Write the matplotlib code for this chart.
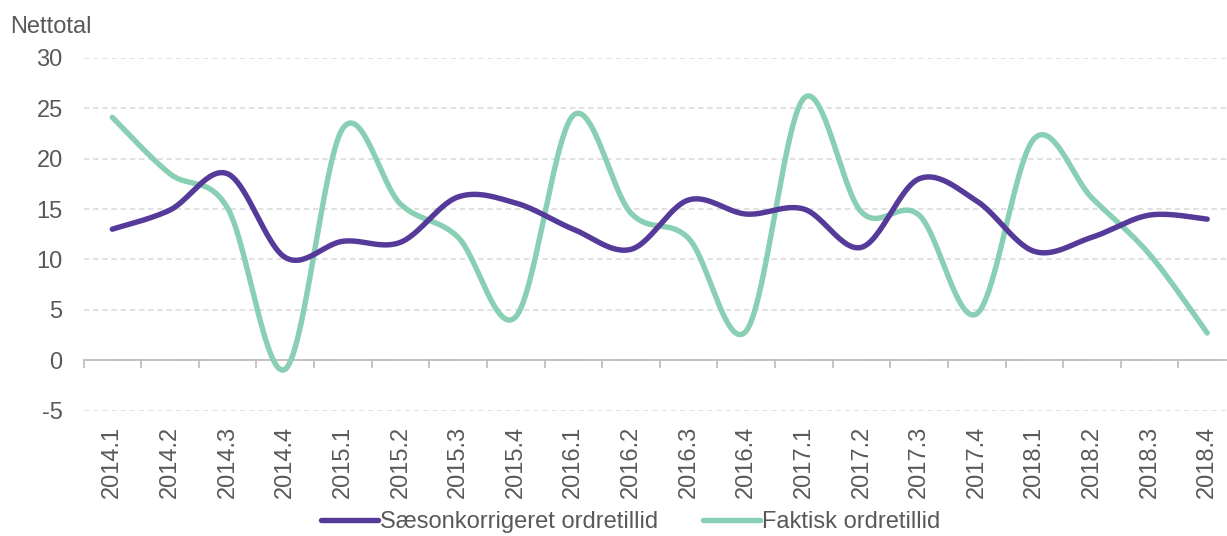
import numpy as np
import matplotlib
matplotlib.use("Agg")
import matplotlib.pyplot as plt

# Data
quarters = ["2014.1", "2014.2", "2014.3", "2014.4",
            "2015.1", "2015.2", "2015.3", "2015.4",
            "2016.1", "2016.2", "2016.3", "2016.4",
            "2017.1", "2017.2", "2017.3", "2017.4",
            "2018.1", "2018.2", "2018.3", "2018.4"]
saeson = [13.0, 14.9, 18.5, 10.2, 11.8, 11.7, 16.2, 15.6, 13.0, 11.0,
          15.9, 14.5, 15.0, 11.2, 18.0, 15.8, 10.8, 12.2, 14.4, 14.0]
faktisk = [24.1, 18.5, 15.1, -0.9, 23.0, 15.5, 12.2, 4.3, 24.3, 14.6,
           12.1, 2.9, 26.0, 14.7, 14.4, 4.6, 22.0, 16.1, 10.5, 2.7]
y_ticks = [-5, 0, 5, 10, 15, 20, 25, 30]

purple = "#553A99"
green = "#88CFB4"
textcol = "#595959"

plt.rcParams['font.family'] = ['Liberation Sans', 'DejaVu Sans']
plt.rcParams['axes.unicode_minus'] = False


def smooth(xs, ys, n=30):
    # Bezier through points, control points like an Excel smoothed line
    xs = np.asarray(xs, float)
    ys = np.asarray(ys, float)
    px = np.concatenate([[xs[0]], xs, [xs[-1]]])
    py = np.concatenate([[ys[0]], ys, [ys[-1]]])
    outx, outy = [], []
    t = np.linspace(0, 1, n)
    for i in range(1, len(px) - 2):
        x0, y0 = px[i], py[i]
        x3, y3 = px[i + 1], py[i + 1]
        x1 = x0 + (px[i + 1] - px[i - 1]) / 6
        y1 = y0 + (py[i + 1] - py[i - 1]) / 6
        x2 = x3 - (px[i + 2] - px[i]) / 6
        y2 = y3 - (py[i + 2] - py[i]) / 6
        bx = (1-t)**3*x0 + 3*(1-t)**2*t*x1 + 3*(1-t)*t**2*x2 + t**3*x3
        by = (1-t)**3*y0 + 3*(1-t)**2*t*y1 + 3*(1-t)*t**2*y2 + t**3*y3
        outx.extend(bx)
        outy.extend(by)
    return np.array(outx), np.array(outy)


fig = plt.figure(figsize=(12.27, 5.36), dpi=100)
ax = fig.add_axes([83.5/1227, 0.234, (1236-83.5)/1227, 0.658])

x = np.arange(len(quarters))
sx, sy = smooth(x, saeson)
fx, fy = smooth(x, faktisk)
ax.plot(sx, sy, color=purple, lw=3.9, solid_capstyle='round', zorder=4,
        label="Sæsonkorrigeret ordretillid")
ax.plot(fx, fy, color=green, lw=3.9, solid_capstyle='round', zorder=3,
        label="Faktisk ordretillid")

ax.set_xlim(-0.5, len(quarters) - 0.5)
ax.set_ylim(-5, 30)
ax.set_yticks(y_ticks)
ax.yaxis.grid(True, linestyle=(0, (3.5, 2.5)), color="#D9D9D9", lw=1.1)
ax.set_axisbelow(True)

for s in ['top', 'right', 'left']:
    ax.spines[s].set_visible(False)
ax.spines['bottom'].set_position(('data', 0))
ax.spines['bottom'].set_color("#BFBFBF")
ax.spines['bottom'].set_linewidth(1.3)

ax.set_xticks(x)
ax.set_xticklabels(quarters, rotation=90, fontsize=17, color=textcol)
ax.set_xticks(np.arange(-0.5, len(quarters)), minor=True)
ax.tick_params(axis='x', which='major', length=0, pad=47)
ax.tick_params(axis='x', which='minor', length=6, width=1.3, color="#BFBFBF",
               direction='out')
ax.tick_params(axis='y', length=0, pad=15, labelsize=17, labelcolor=textcol)

fig.text(10/1227, 1 - 27/536, "Nettotal", fontsize=17, color=textcol,
         ha='left', va='center')

leg = fig.legend(loc='center', bbox_to_anchor=(0.514, 0.026), ncol=2,
                 frameon=False, fontsize=17, handlelength=2.4,
                 handletextpad=0.1, columnspacing=1.9, borderpad=0.2)
for t in leg.get_texts():
    t.set_color(textcol)

fig.savefig("out.png", dpi=100)
